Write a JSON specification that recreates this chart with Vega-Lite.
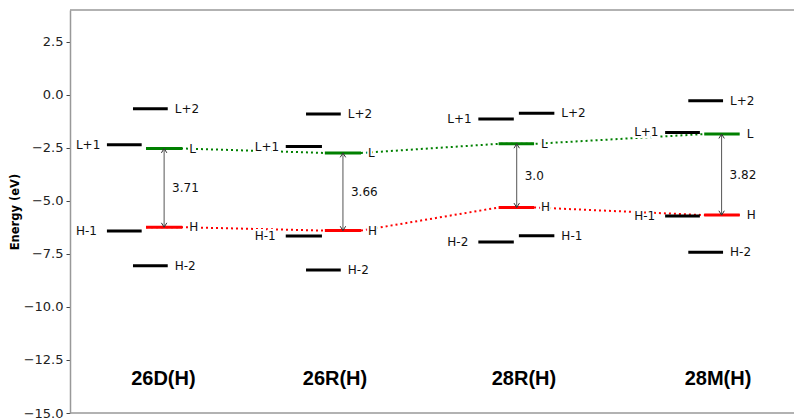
{
  "$schema": "https://vega.github.io/schema/vega-lite/v6.json",
  "width": 724,
  "height": 403,
  "autosize": {"type": "none"},
  "padding": {"left": 70, "top": 10, "right": 0, "bottom": 5},
  "background": "white",
  "config": {
    "view": {"stroke": null},
    "axisY": {
      "grid": false,
      "domainColor": "#999999",
      "domainWidth": 1.5,
      "tickColor": "#444444",
      "tickSize": 4,
      "tickWidth": 1,
      "labelFont": "DejaVu Sans",
      "labelFontSize": 13,
      "labelColor": "#222222",
      "labelPadding": 3,
      "titleFont": "DejaVu Sans",
      "titleFontSize": 11.5,
      "titleFontWeight": "bold",
      "titleColor": "#000000",
      "titlePadding": 3
    }
  },
  "datasets": {
    "levels": [
      {"mol": "26D(H)", "orb": "L+1", "e": -2.35, "x1": 0.51, "x2": 0.99, "col": "left"},
      {"mol": "26D(H)", "orb": "H-1", "e": -6.42, "x1": 0.51, "x2": 0.99, "col": "left"},
      {"mol": "26D(H)", "orb": "L+2", "e": -0.65, "x1": 0.87, "x2": 1.35, "col": "mid"},
      {"mol": "26D(H)", "orb": "H-2", "e": -8.06, "x1": 0.87, "x2": 1.35, "col": "mid"},
      {"mol": "26D(H)", "orb": "L", "e": -2.53, "x1": 1.05, "x2": 1.55, "col": "right"},
      {"mol": "26D(H)", "orb": "H", "e": -6.24, "x1": 1.05, "x2": 1.55, "col": "right"},
      {"mol": "26R(H)", "orb": "L+1", "e": -2.44, "x1": 2.98, "x2": 3.48, "col": "left"},
      {"mol": "26R(H)", "orb": "H-1", "e": -6.66, "x1": 2.98, "x2": 3.48, "col": "left"},
      {"mol": "26R(H)", "orb": "L+2", "e": -0.9, "x1": 3.26, "x2": 3.74, "col": "mid"},
      {"mol": "26R(H)", "orb": "H-2", "e": -8.26, "x1": 3.26, "x2": 3.74, "col": "mid"},
      {"mol": "26R(H)", "orb": "L", "e": -2.74, "x1": 3.52, "x2": 4.02, "col": "right"},
      {"mol": "26R(H)", "orb": "H", "e": -6.4, "x1": 3.52, "x2": 4.02, "col": "right"},
      {"mol": "28R(H)", "orb": "L+1", "e": -1.14, "x1": 5.64, "x2": 6.13, "col": "left"},
      {"mol": "28R(H)", "orb": "H-2", "e": -6.94, "x1": 5.64, "x2": 6.13, "col": "left"},
      {"mol": "28R(H)", "orb": "L", "e": -2.31, "x1": 5.92, "x2": 6.41, "col": "mid"},
      {"mol": "28R(H)", "orb": "H", "e": -5.31, "x1": 5.92, "x2": 6.41, "col": "mid"},
      {"mol": "28R(H)", "orb": "L+2", "e": -0.87, "x1": 6.2, "x2": 6.69, "col": "right"},
      {"mol": "28R(H)", "orb": "H-1", "e": -6.64, "x1": 6.2, "x2": 6.69, "col": "right"},
      {"mol": "28M(H)", "orb": "L+1", "e": -1.77, "x1": 8.22, "x2": 8.7, "col": "left"},
      {"mol": "28M(H)", "orb": "H-1", "e": -5.71, "x1": 8.22, "x2": 8.7, "col": "left"},
      {"mol": "28M(H)", "orb": "L+2", "e": -0.28, "x1": 8.54, "x2": 9.02, "col": "mid"},
      {"mol": "28M(H)", "orb": "H-2", "e": -7.42, "x1": 8.54, "x2": 9.02, "col": "mid"},
      {"mol": "28M(H)", "orb": "L", "e": -1.85, "x1": 8.76, "x2": 9.25, "col": "right"},
      {"mol": "28M(H)", "orb": "H", "e": -5.67, "x1": 8.76, "x2": 9.25, "col": "right"}
    ],
    "gaps": [
      {"mol": "26D(H)", "ax": 1.3, "L": -2.53, "H": -6.24, "gap": "3.71"},
      {"mol": "26R(H)", "ax": 3.77, "L": -2.74, "H": -6.4, "gap": "3.66"},
      {"mol": "28R(H)", "ax": 6.17, "L": -2.31, "H": -5.31, "gap": "3.0"},
      {"mol": "28M(H)", "ax": 9.0, "L": -1.85, "H": -5.67, "gap": "3.82"}
    ],
    "mols": [
      {"mol": "26D(H)", "xc": 1.29, "yc": -13.4},
      {"mol": "26R(H)", "xc": 3.66, "yc": -13.4},
      {"mol": "28R(H)", "xc": 6.27, "yc": -13.4},
      {"mol": "28M(H)", "xc": 8.95, "yc": -13.4}
    ]
  },
  "layer": [
    {
      "data": {"values": [{"yv": 4}, {"yv": -15}]},
      "mark": {"type": "rule", "color": "#999999", "strokeWidth": 1.5},
      "encoding": {
        "y": {"field": "yv", "type": "quantitative", "title": "Energy (eV)", "scale": {"domain": [-15, 4], "nice": false, "zero": false}, "axis": {"values": [-15, -12.5, -10, -7.5, -5, -2.5, 0, 2.5], "format": ".1f"}}
      }
    },
    {
      "data": {"name": "levels"},
      "transform": [
        {"filter": "datum.orb == 'L' || datum.orb == 'H'"},
        {"fold": ["x1", "x2"], "as": ["end", "xv"]}
      ],
      "mark": {"type": "line", "strokeDash": [2, 3], "strokeWidth": 2},
      "encoding": {
        "x": {"field": "xv", "type": "quantitative", "scale": {"domain": [0, 10]}, "axis": null},
        "y": {"field": "e", "type": "quantitative", "title": "Energy (eV)", "scale": {"domain": [-15, 4], "nice": false, "zero": false}, "axis": {"values": [-15, -12.5, -10, -7.5, -5, -2.5, 0, 2.5], "format": ".1f"}},
        "detail": {"field": "orb"},
        "order": {"field": "xv", "type": "quantitative"},
        "color": {"field": "orb", "type": "nominal", "scale": {"domain": ["L", "H", "L+1", "L+2", "H-1", "H-2"], "range": ["#008000", "#ff0000", "#000000", "#000000", "#000000", "#000000"]}, "legend": null}
      }
    },
    {
      "data": {"name": "levels"},
      "mark": {"type": "rule", "strokeWidth": 3},
      "encoding": {
        "x": {"field": "x1", "type": "quantitative", "scale": {"domain": [0, 10]}, "axis": null},
        "x2": {"field": "x2"},
        "y": {"field": "e", "type": "quantitative", "title": "Energy (eV)", "scale": {"domain": [-15, 4], "nice": false, "zero": false}, "axis": {"values": [-15, -12.5, -10, -7.5, -5, -2.5, 0, 2.5], "format": ".1f"}},
        "color": {"field": "orb", "type": "nominal", "legend": null}
      }
    },
    {
      "data": {"name": "gaps"},
      "mark": {"type": "rule", "color": "#555555", "strokeWidth": 1},
      "encoding": {
        "x": {"field": "ax", "type": "quantitative", "scale": {"domain": [0, 10]}, "axis": null},
        "y": {"field": "L", "type": "quantitative", "title": "Energy (eV)", "scale": {"domain": [-15, 4], "nice": false, "zero": false}, "axis": {"values": [-15, -12.5, -10, -7.5, -5, -2.5, 0, 2.5], "format": ".1f"}},
        "y2": {"field": "H"}
      }
    },
    {
      "data": {"name": "gaps"},
      "mark": {"type": "point", "shape": "M-1,1.6L0,0L1,1.6", "filled": false, "stroke": "#333333", "strokeWidth": 1, "size": 30, "opacity": 1},
      "encoding": {
        "x": {"field": "ax", "type": "quantitative", "scale": {"domain": [0, 10]}, "axis": null},
        "y": {"field": "L", "type": "quantitative", "title": "Energy (eV)", "scale": {"domain": [-15, 4], "nice": false, "zero": false}, "axis": {"values": [-15, -12.5, -10, -7.5, -5, -2.5, 0, 2.5], "format": ".1f"}}
      }
    },
    {
      "data": {"name": "gaps"},
      "mark": {"type": "point", "shape": "M-1,-1.6L0,0L1,-1.6", "filled": false, "stroke": "#333333", "strokeWidth": 1, "size": 30, "opacity": 1},
      "encoding": {
        "x": {"field": "ax", "type": "quantitative", "scale": {"domain": [0, 10]}, "axis": null},
        "y": {"field": "H", "type": "quantitative", "title": "Energy (eV)", "scale": {"domain": [-15, 4], "nice": false, "zero": false}, "axis": {"values": [-15, -12.5, -10, -7.5, -5, -2.5, 0, 2.5], "format": ".1f"}}
      }
    },
    {
      "data": {"name": "levels"},
      "transform": [{"filter": "datum.col == 'left'"}],
      "mark": {"type": "text", "align": "left", "baseline": "middle", "dx": -31, "font": "DejaVu Sans", "fontSize": 12, "stroke": "white", "strokeWidth": 4, "fill": "white"},
      "encoding": {
        "x": {"field": "x1", "type": "quantitative", "scale": {"domain": [0, 10]}, "axis": null},
        "y": {"field": "e", "type": "quantitative", "title": "Energy (eV)", "scale": {"domain": [-15, 4], "nice": false, "zero": false}, "axis": {"values": [-15, -12.5, -10, -7.5, -5, -2.5, 0, 2.5], "format": ".1f"}},
        "text": {"field": "orb"}
      }
    },
    {
      "data": {"name": "levels"},
      "transform": [{"filter": "datum.col != 'left'"}],
      "mark": {"type": "text", "align": "left", "baseline": "middle", "dx": 7, "font": "DejaVu Sans", "fontSize": 12, "stroke": "white", "strokeWidth": 4, "fill": "white"},
      "encoding": {
        "x": {"field": "x2", "type": "quantitative", "scale": {"domain": [0, 10]}, "axis": null},
        "y": {"field": "e", "type": "quantitative", "title": "Energy (eV)", "scale": {"domain": [-15, 4], "nice": false, "zero": false}, "axis": {"values": [-15, -12.5, -10, -7.5, -5, -2.5, 0, 2.5], "format": ".1f"}},
        "text": {"field": "orb"}
      }
    },
    {
      "data": {"name": "levels"},
      "transform": [{"filter": "datum.col == 'left'"}],
      "mark": {"type": "text", "align": "left", "baseline": "middle", "dx": -31, "font": "DejaVu Sans", "fontSize": 12, "fill": "#111111"},
      "encoding": {
        "x": {"field": "x1", "type": "quantitative", "scale": {"domain": [0, 10]}, "axis": null},
        "y": {"field": "e", "type": "quantitative", "title": "Energy (eV)", "scale": {"domain": [-15, 4], "nice": false, "zero": false}, "axis": {"values": [-15, -12.5, -10, -7.5, -5, -2.5, 0, 2.5], "format": ".1f"}},
        "text": {"field": "orb"}
      }
    },
    {
      "data": {"name": "levels"},
      "transform": [{"filter": "datum.col != 'left'"}],
      "mark": {"type": "text", "align": "left", "baseline": "middle", "dx": 7, "font": "DejaVu Sans", "fontSize": 12, "fill": "#111111"},
      "encoding": {
        "x": {"field": "x2", "type": "quantitative", "scale": {"domain": [0, 10]}, "axis": null},
        "y": {"field": "e", "type": "quantitative", "title": "Energy (eV)", "scale": {"domain": [-15, 4], "nice": false, "zero": false}, "axis": {"values": [-15, -12.5, -10, -7.5, -5, -2.5, 0, 2.5], "format": ".1f"}},
        "text": {"field": "orb"}
      }
    },
    {
      "data": {"name": "gaps"},
      "transform": [{"calculate": "(datum.L + datum.H) / 2", "as": "mid"}],
      "mark": {"type": "text", "align": "left", "baseline": "middle", "dx": 8, "font": "DejaVu Sans", "fontSize": 12, "fill": "#111111"},
      "encoding": {
        "x": {"field": "ax", "type": "quantitative", "scale": {"domain": [0, 10]}, "axis": null},
        "y": {"field": "mid", "type": "quantitative", "title": "Energy (eV)", "scale": {"domain": [-15, 4], "nice": false, "zero": false}, "axis": {"values": [-15, -12.5, -10, -7.5, -5, -2.5, 0, 2.5], "format": ".1f"}},
        "text": {"field": "gap"}
      }
    },
    {
      "data": {"name": "mols"},
      "mark": {"type": "text", "align": "center", "baseline": "middle", "font": "Liberation Sans", "fontSize": 20, "fontWeight": "bold", "fill": "#000000"},
      "encoding": {
        "x": {"field": "xc", "type": "quantitative", "scale": {"domain": [0, 10]}, "axis": null},
        "y": {"field": "yc", "type": "quantitative", "title": "Energy (eV)", "scale": {"domain": [-15, 4], "nice": false, "zero": false}, "axis": {"values": [-15, -12.5, -10, -7.5, -5, -2.5, 0, 2.5], "format": ".1f"}},
        "text": {"field": "mol"}
      }
    }
  ]
}
